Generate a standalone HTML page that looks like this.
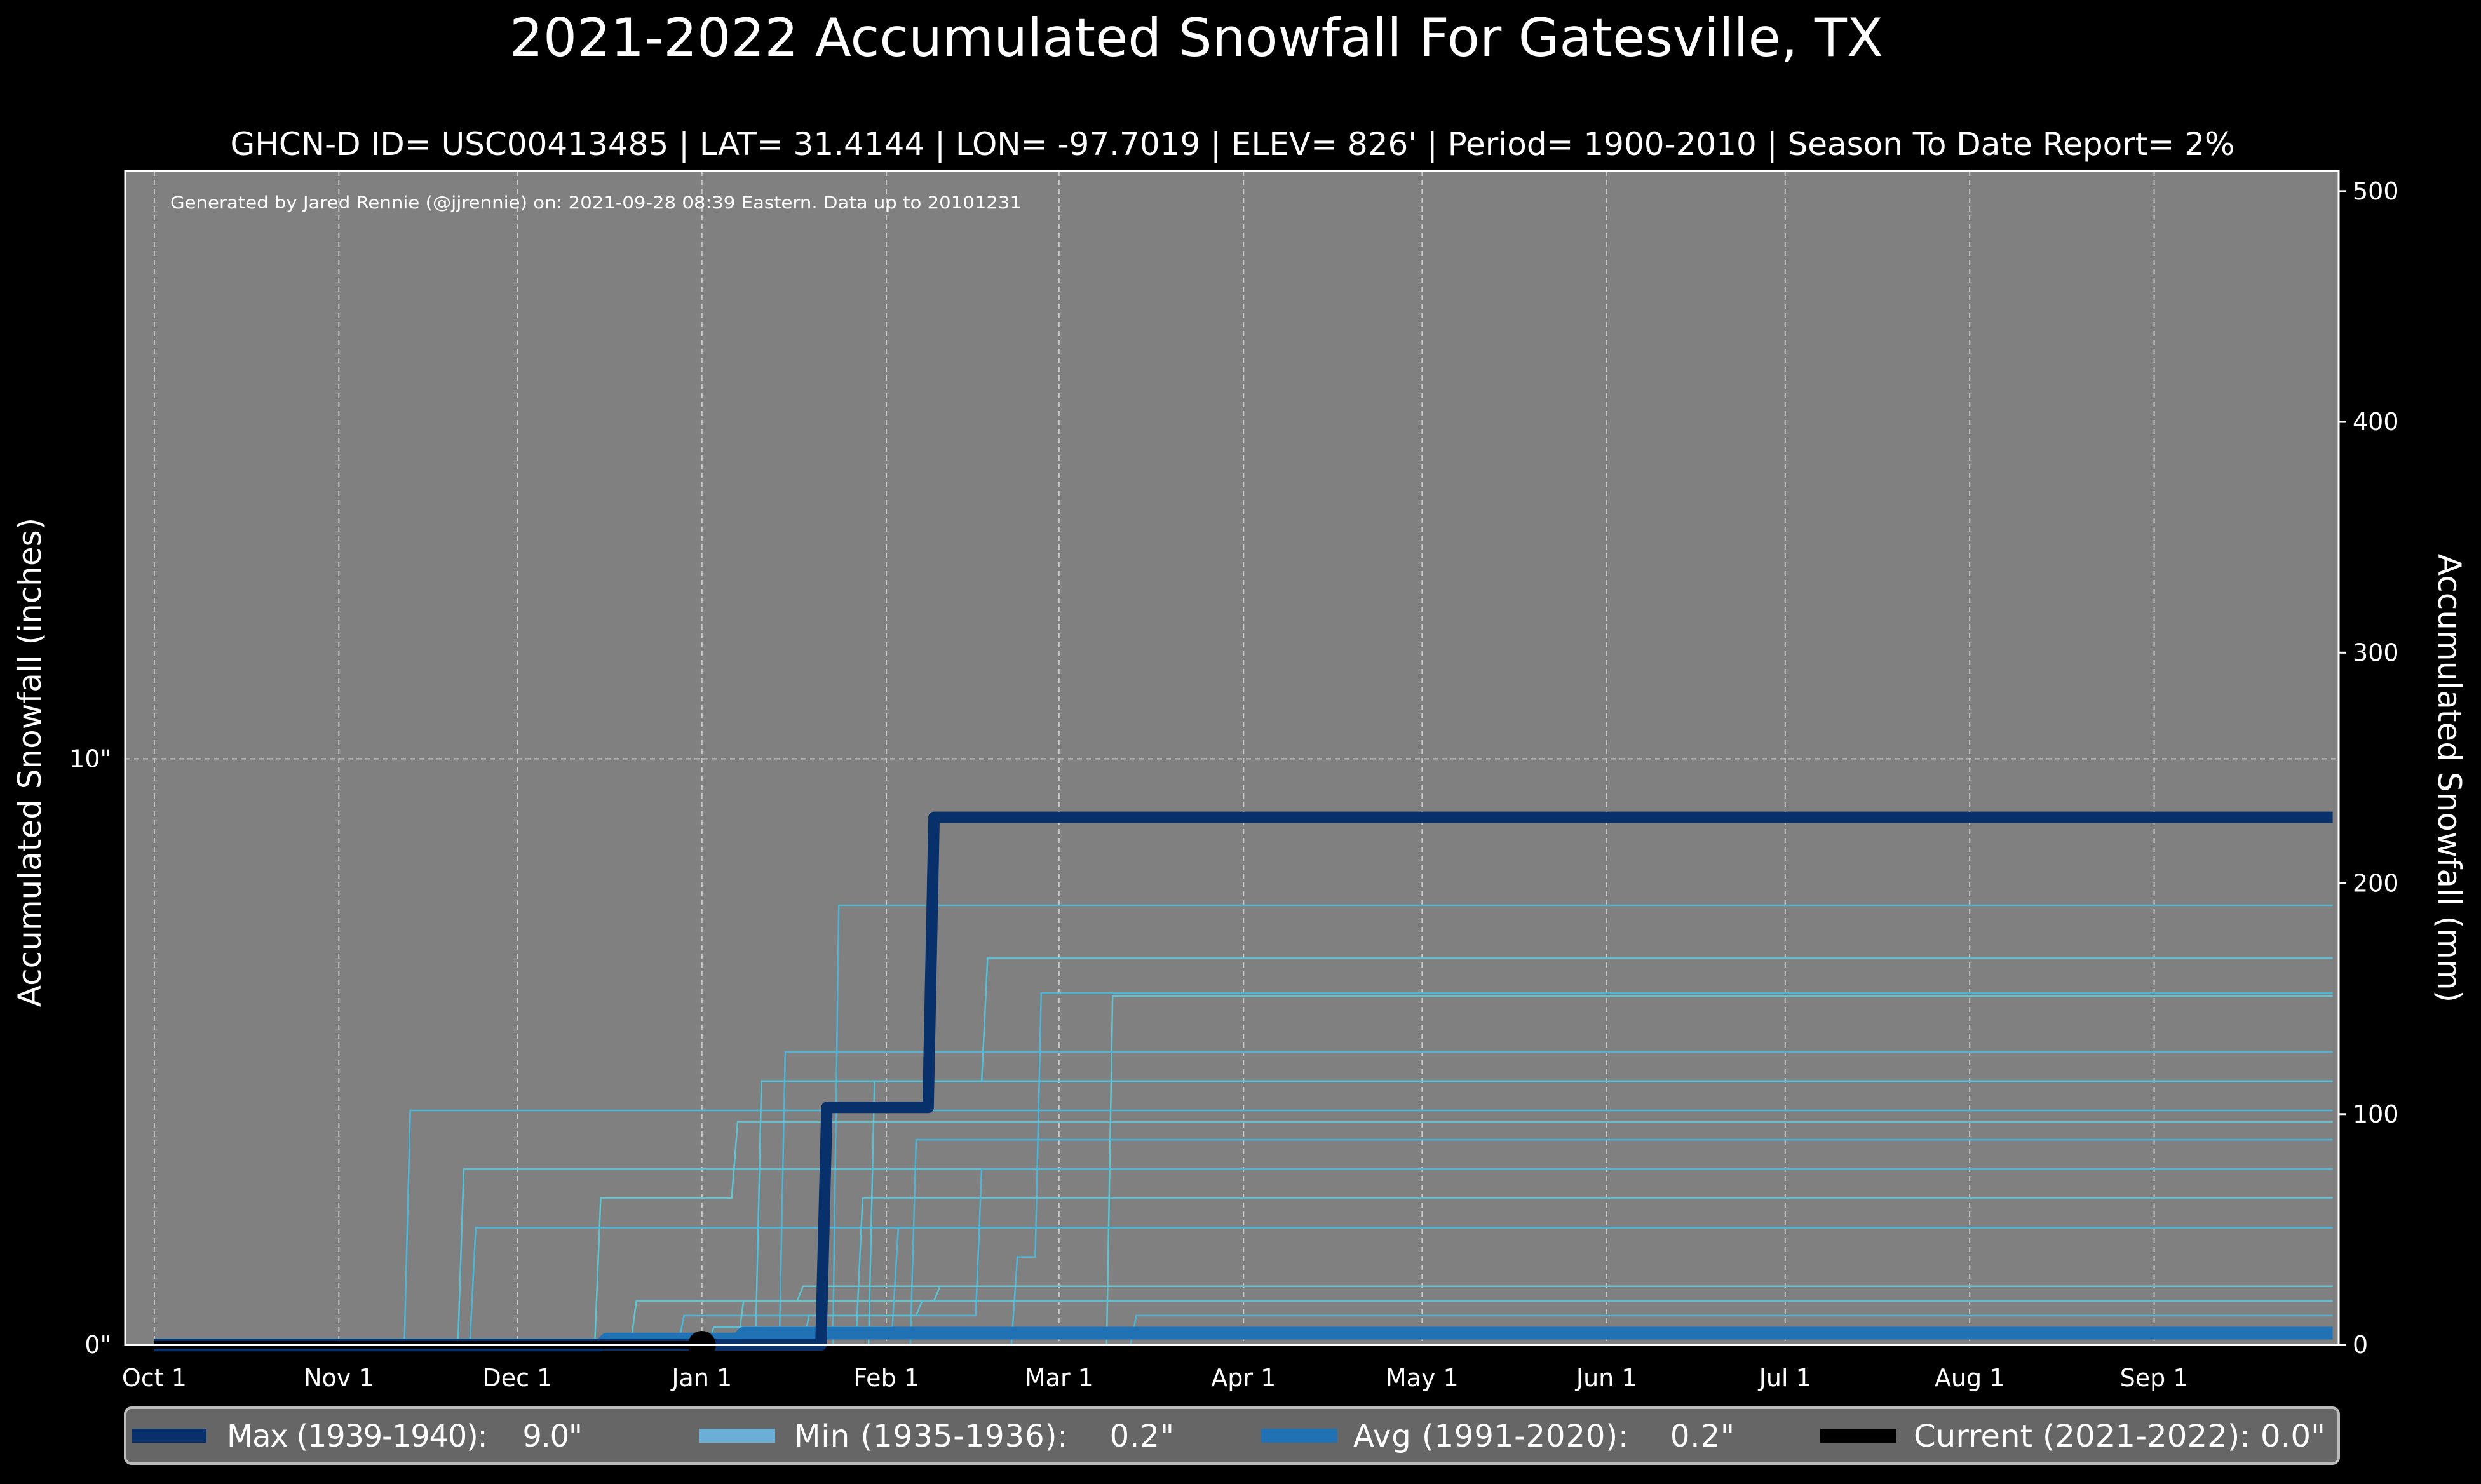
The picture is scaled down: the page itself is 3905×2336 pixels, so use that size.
<!DOCTYPE html>
<html><head><meta charset="utf-8"><style>
html,body{margin:0;padding:0;background:#000;}
svg{display:block;font-family:"DejaVu Sans","Liberation Sans",sans-serif;}
</style></head><body>
<svg id="chart" width="3905" height="2336" viewBox="0 0 3905 2336">
<rect width="3905" height="2336" fill="#000"/>
<text x="1883" y="88" font-size="83" fill="#fff" text-anchor="middle" textLength="2162" lengthAdjust="spacingAndGlyphs">2021-2022 Accumulated Snowfall For Gatesville, TX</text>
<text x="1940" y="244" font-size="50" fill="#fff" text-anchor="middle" textLength="3155" lengthAdjust="spacingAndGlyphs">GHCN-D ID= USC00413485 | LAT= 31.4144 | LON= -97.7019 | ELEV= 826' | Period= 1900-2010 | Season To Date Report= 2%</text>
<rect x="197" y="269" width="3484" height="1848" fill="#808080"/>
<g id="grid"></g>
<g id="series"></g>
<rect x="197" y="269" width="3484" height="1848" fill="none" stroke="#fff" stroke-width="3"/>
<text x="268" y="328" font-size="27" fill="#fff" textLength="1340" lengthAdjust="spacingAndGlyphs">Generated by Jared Rennie (@jjrennie) on: 2021-09-28 08:39 Eastern. Data up to 20101231</text>
<g id="axes"></g>
<text transform="translate(64,1200) rotate(-90)" font-size="50" fill="#fff" text-anchor="middle">Accumulated Snowfall (inches)</text>
<text transform="translate(3838,1225) rotate(90)" font-size="50" fill="#fff" text-anchor="middle">Accumulated Snowfall (mm)</text>
<g>
<rect x="197" y="2216" width="3484" height="88" rx="10" fill="#666" stroke="#bbb" stroke-width="4"/>
<line x1="208" y1="2260" x2="325" y2="2260" stroke="#08306b" stroke-width="22"/>
<text x="357" y="2277" font-size="48" fill="#fff" xml:space="preserve" textLength="560" lengthAdjust="spacing">Max (1939-1940):    9.0"</text>
<line x1="1100" y1="2260" x2="1220" y2="2260" stroke="#6baed6" stroke-width="22"/>
<text x="1250" y="2277" font-size="48" fill="#fff" xml:space="preserve" textLength="598" lengthAdjust="spacing">Min (1935-1936):    0.2"</text>
<line x1="1985" y1="2260" x2="2105" y2="2260" stroke="#2171b5" stroke-width="22"/>
<text x="2130" y="2277" font-size="48" fill="#fff" xml:space="preserve" textLength="600" lengthAdjust="spacing">Avg (1991-2020):    0.2"</text>
<line x1="2865" y1="2260" x2="2985" y2="2260" stroke="#000" stroke-width="22"/>
<text x="3012" y="2277" font-size="48" fill="#fff" textLength="648" lengthAdjust="spacingAndGlyphs">Current (2021-2022): 0.0"</text>
</g>
</svg>
<script>
// Data (day index from Oct 1, 366-day season, cumulative inches)
const monthLabels = ["Oct 1","Nov 1","Dec 1","Jan 1","Feb 1","Mar 1","Apr 1","May 1","Jun 1","Jul 1","Aug 1","Sep 1"];
const monthDays = [0,31,61,92,123,152,183,213,244,274,305,336];
const leftTicks = [0,10];
const rightTicks = [0,100,200,300,400,500];
const histSeries = [
  [[115,7.5]],
  [[121,4.5],[140,6.6]],
  [[145,1.5],[149,6.0]],
  [[161,5.95]],
  [[106,5.0]],
  [[102,4.5]],
  [[43,4.0]],
  [[75,2.5],[98,3.8]],
  [[128,3.5]],
  [[52,3.0]],
  [[54,2.0]],
  [[81,0.75],[109,1.0]],
  [[165,0.5]],
  [[94,0.3],[119,2.5]],
  [[89,0.5],[139,3.0]],
  [[99,0.75],[132,1.0]],
  [[103,0.3],[125,2.0]],
  [[110,0.5],[129,0.75]]
];
const maxSeries = [[113,4.05],[131,9.0]];
const minSeries = [[99,0.2]];
const avgSeries = [[76,0.1],[99,0.2]];
const currentSeries = [[92,0.0]];
const seasonEnd = 366;

const X0=197,X1=3681,Y0=2117,Y1=269;
const dMin=-4.9, dMax=367, yMaxIn=20.03;
const xs=d=>X0+(d-dMin)/(dMax-dMin)*(X1-X0);
const ys=v=>Y0-v/yMaxIn*(Y0-Y1);
const ysMM=mm=>ys(mm/25.4);
const NS="http://www.w3.org/2000/svg";
function mk(tag,attrs,parent){const e=document.createElementNS(NS,tag);for(const k in attrs)e.setAttribute(k,attrs[k]);parent.appendChild(e);return e;}
const grid=document.getElementById('grid'),axes=document.getElementById('axes'),ser=document.getElementById('series');

monthDays.forEach((d,i)=>{
  const l=mk('line',{x1:xs(d),x2:xs(d),y1:Y1,y2:Y0,stroke:'#c8c8c8','stroke-width':2,'stroke-dasharray':'8,6'},grid);
  
  
  const t=mk('text',{x:xs(d),y:Y0+65,'font-size':38,fill:'#fff','text-anchor':'middle'},axes);
  t.textContent=monthLabels[i];
  
  
});
leftTicks.forEach(v=>{
  const l=mk('line',{x1:X0,x2:X1,y1:ys(v),y2:ys(v),stroke:'#c8c8c8','stroke-width':2,'stroke-dasharray':'8,6'},grid);
  
  
  const t=mk('text',{x:X0-22,y:ys(v)+13,'font-size':38,fill:'#fff','text-anchor':'end'},axes);
  t.textContent=v+'"';
  
  
});
rightTicks.forEach(v=>{
  mk('line',{x1:X1,x2:X1+12,y1:ysMM(v),y2:ysMM(v),stroke:'#fff','stroke-width':3},axes);
  const t=mk('text',{x:X1+22,y:ysMM(v)+13,'font-size':38,fill:'#fff'},axes);
  t.textContent=v;
  
  
});
function stepPts(ev,start,end){
  let pts=[[start,0]],prev=0;
  ev.forEach(([d,v])=>{pts.push([d-1,prev]);pts.push([d,v]);prev=v;});
  pts.push([end,prev]);
  return pts.map(p=>xs(p[0]).toFixed(1)+','+ys(p[1]).toFixed(1)).join(' ');
}
const cyan=['#4fb3d3','#56c0d6','#4db6d9','#5fc4cf'];
histSeries.forEach((ev,i)=>{
  const p=mk('polyline',{points:stepPts(ev,0,seasonEnd),fill:'none',stroke:cyan[i%4],'stroke-width':2.5},ser);
  
  
});
const pMin=mk('polyline',{points:stepPts(minSeries,0,seasonEnd),fill:'none',stroke:'#6baed6','stroke-width':14,'stroke-linejoin':'round'},ser);


const pAvg=mk('polyline',{points:stepPts(avgSeries,0,seasonEnd),fill:'none',stroke:'#2171b5','stroke-width':20,'stroke-linejoin':'round'},ser);


const pMax=mk('polyline',{points:stepPts(maxSeries,0,seasonEnd),fill:'none',stroke:'#08306b','stroke-width':18,'stroke-linejoin':'round'},ser);


const cd=currentSeries[currentSeries.length-1];
const pCur=mk('line',{x1:xs(0),y1:ys(0),x2:xs(cd[0]),y2:ys(cd[1]),stroke:'#000','stroke-width':12},ser);


const dot=mk('circle',{cx:xs(cd[0]),cy:ys(cd[1]),r:22,fill:'#000'},ser);


</script>
</body></html>
